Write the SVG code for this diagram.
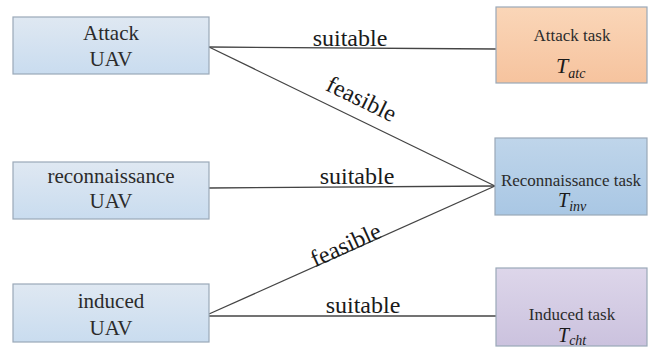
<svg xmlns="http://www.w3.org/2000/svg" width="655" height="347" viewBox="0 0 655 347">
<defs>
<linearGradient id="gBlue" x1="0" y1="0" x2="0" y2="1"><stop offset="0" stop-color="#dfe8f2"/><stop offset="1" stop-color="#c9dcef"/></linearGradient>
<linearGradient id="gOrange" x1="0" y1="0" x2="0" y2="1"><stop offset="0" stop-color="#fad6b8"/><stop offset="1" stop-color="#f6c39e"/></linearGradient>
<linearGradient id="gBlue2" x1="0" y1="0" x2="0" y2="1"><stop offset="0" stop-color="#bfd5ea"/><stop offset="1" stop-color="#a9c7e4"/></linearGradient>
<linearGradient id="gPurple" x1="0" y1="0" x2="0" y2="1"><stop offset="0" stop-color="#ddd6ea"/><stop offset="1" stop-color="#cbc2de"/></linearGradient>
</defs>
<style>
.box{stroke:#9aa8b8;stroke-width:1.2}
.lt{font-family:"Liberation Serif","Times New Roman",serif;font-size:21px;fill:#2b2b2b;text-anchor:middle}
.rt{font-family:"Liberation Serif","Times New Roman",serif;font-size:17px;fill:#2b2b2b;text-anchor:middle}
.tv{font-family:"Liberation Serif","Times New Roman",serif;font-style:italic;fill:#1a1a1a}
.el{font-family:"Liberation Serif","Times New Roman",serif;font-size:24px;fill:#1a1a1a;text-anchor:middle}
.ln{stroke:#444;stroke-width:1.3;fill:none}
</style>
<rect width="655" height="347" fill="#ffffff"/>
<g id="connectors">
<line class="ln" x1="209" y1="47" x2="496" y2="49"/>
<line class="ln" x1="209" y1="47" x2="495" y2="186"/>
<line class="ln" x1="209" y1="188" x2="495" y2="186"/>
<line class="ln" x1="209" y1="314" x2="495" y2="186"/>
<line class="ln" x1="209" y1="316" x2="496" y2="316"/>
<text class="el" x="350" y="46">suitable</text>
<text class="el" x="357" y="184">suitable</text>
<text class="el" x="363" y="313">suitable</text>
<text class="el" transform="translate(358 106) rotate(26)">feasible</text>
<text class="el" transform="translate(349 252) rotate(-24.5)">feasible</text>
</g>
<g id="attack-uav">
<rect class="box" x="13" y="17" width="196" height="57" fill="url(#gBlue)"/>
<text class="lt" x="111" y="40">Attack</text>
<text class="lt" x="111" y="66">UAV</text>
</g>
<g id="recon-uav">
<rect class="box" x="13" y="162" width="196" height="57" fill="url(#gBlue)"/>
<text class="lt" x="111" y="183">reconnaissance</text>
<text class="lt" x="111" y="208">UAV</text>
</g>
<g id="induced-uav">
<rect class="box" x="13" y="284" width="196" height="58" fill="url(#gBlue)"/>
<text class="lt" x="111" y="308">induced</text>
<text class="lt" x="111" y="335">UAV</text>
</g>
<g id="attack-task">
<rect class="box" x="496" y="7" width="151" height="76" fill="url(#gOrange)"/>
<text class="rt" x="572" y="41">Attack task</text>
<text class="tv" x="556" y="73" font-size="22">T<tspan font-size="14" dy="5">atc</tspan></text>
</g>
<g id="recon-task">
<rect class="box" x="495" y="138" width="152" height="77" fill="url(#gBlue2)"/>
<text class="rt" x="571" y="186" font-size="16">Reconnaissance task</text>
<text class="tv" x="558" y="207" font-size="20">T<tspan font-size="14" dy="4">inv</tspan></text>
</g>
<g id="induced-task">
<rect class="box" x="496" y="268" width="151" height="78" fill="url(#gPurple)"/>
<text class="rt" x="572" y="320">Induced task</text>
<text class="tv" x="558" y="342" font-size="20">T<tspan font-size="14" dy="3">cht</tspan></text>
</g>
</svg>
